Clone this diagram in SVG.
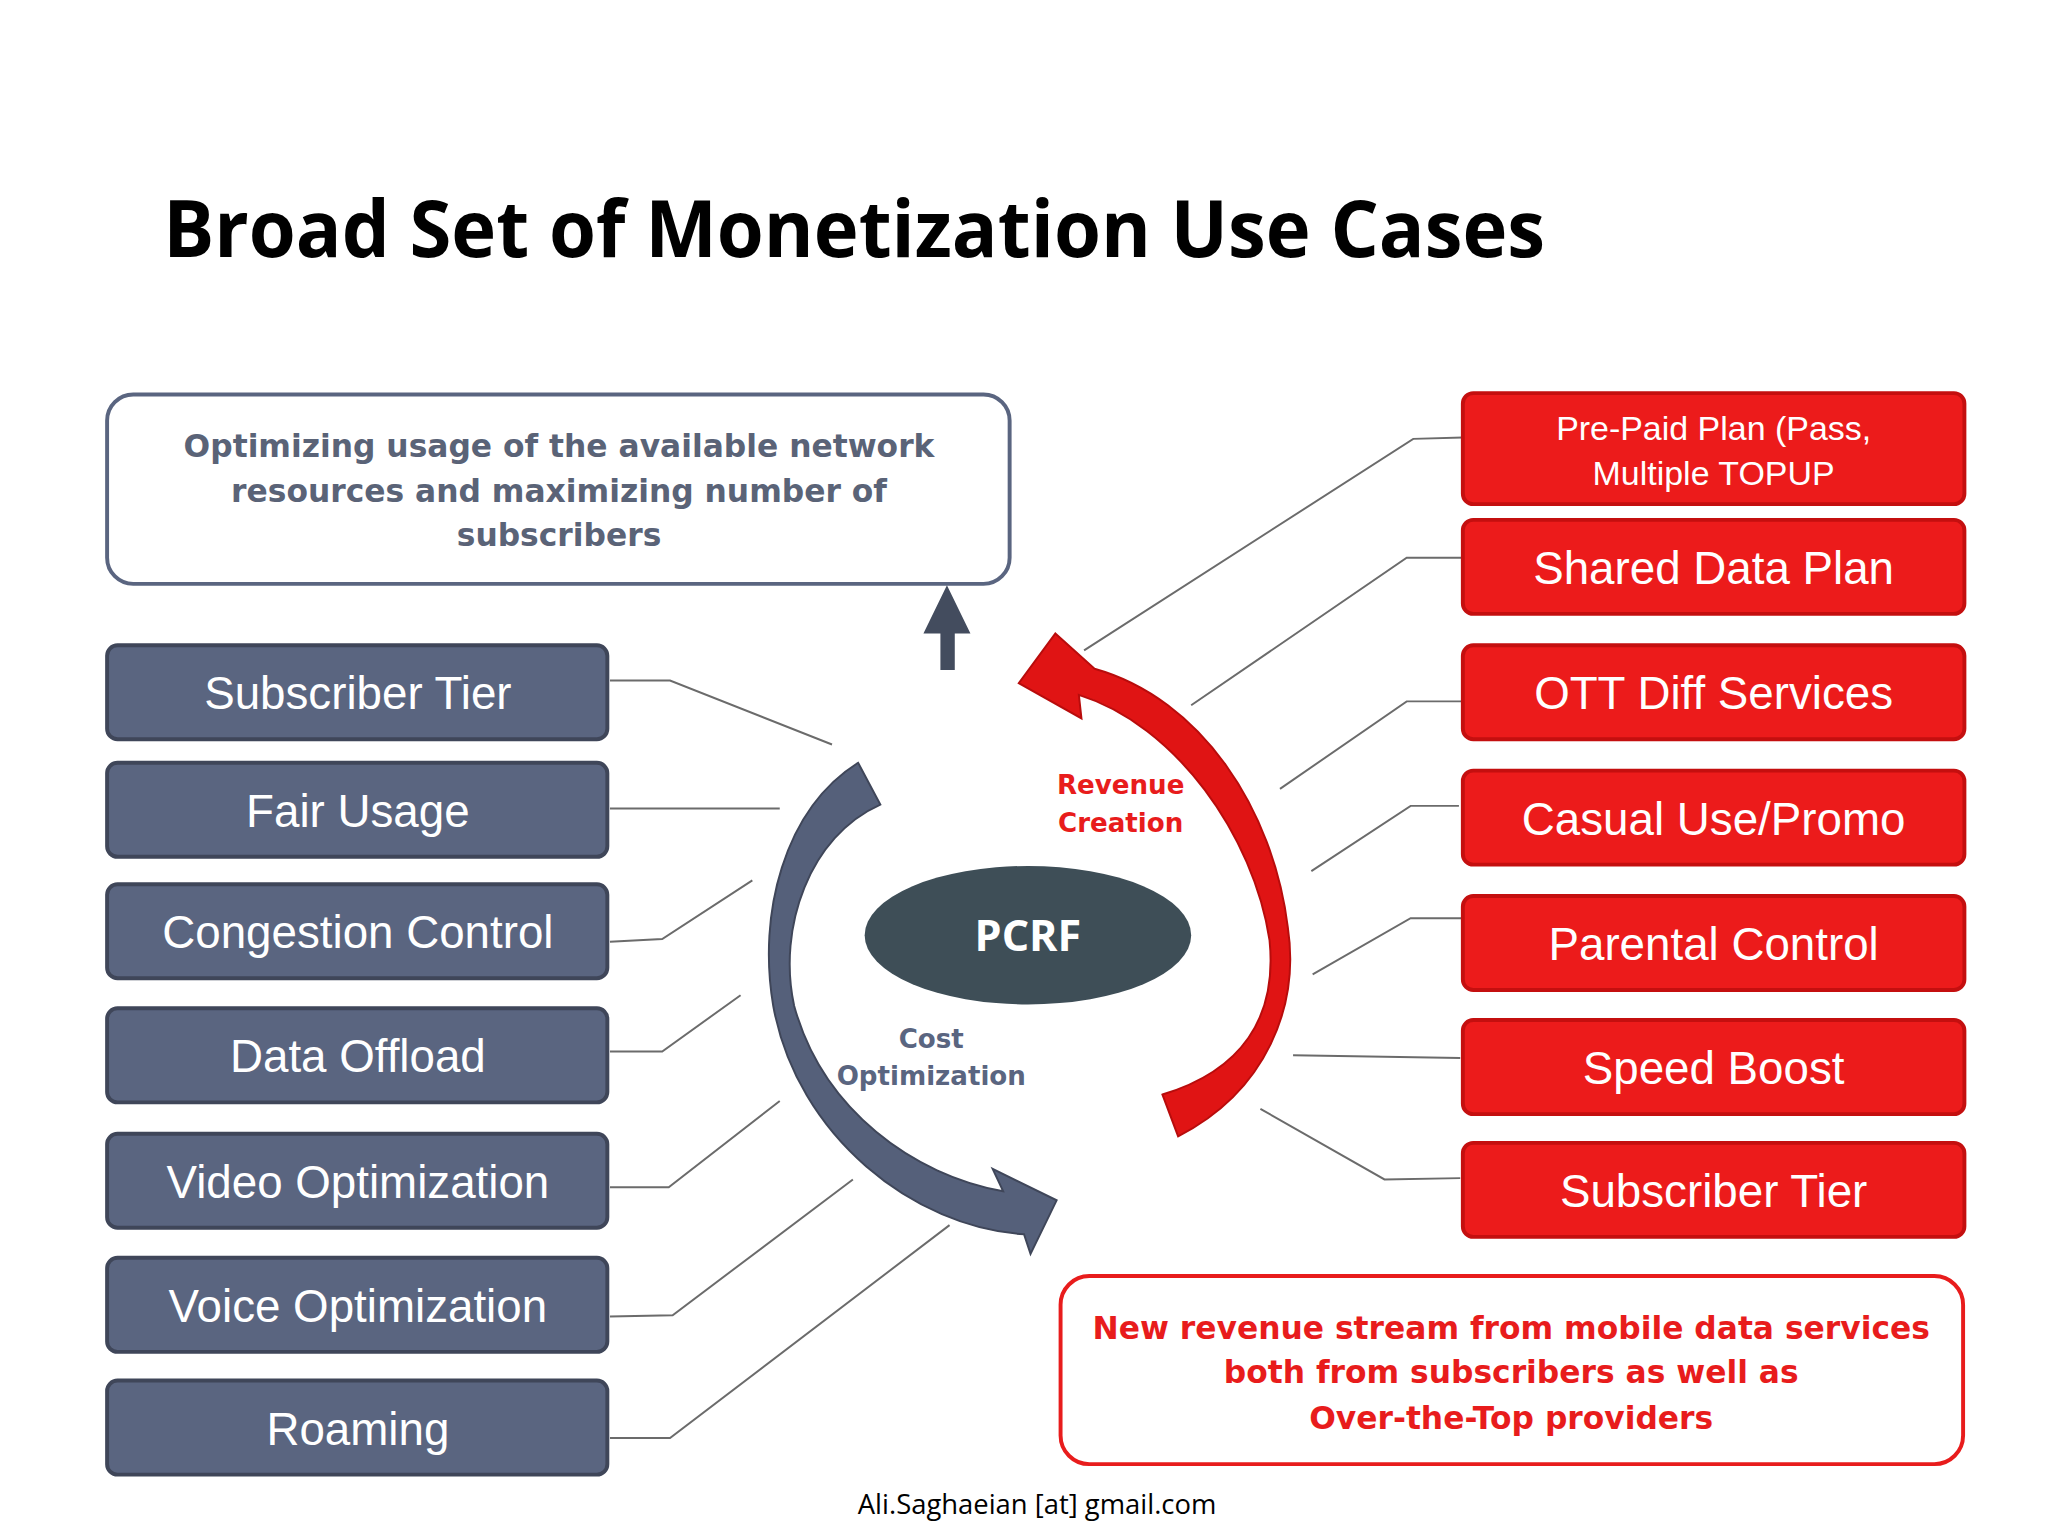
<svg xmlns="http://www.w3.org/2000/svg" width="2048" height="1536" viewBox="0 0 2048 1536">
<style>
.lb{fill:#5a6580;stroke:#3f4659;stroke-width:3}
.rb{fill:#ec1b1b;stroke:#c40f0f;stroke-width:3}
.bt{fill:#fff;font-family:"Liberation Sans",Arial,sans-serif;font-size:35px;text-anchor:middle}
.c{fill:none;stroke:#6b6b6b;stroke-width:1.5}
.d{font-family:"DejaVu Sans",Verdana,sans-serif;font-weight:bold;font-size:24px;text-anchor:middle}
</style>
<rect width="2048" height="1536" fill="#fff"/>
<g transform="scale(1.30612)">
<text x="125" y="197" font-family="'Open Sans',sans-serif" font-weight="bold" font-size="60" textLength="1058" lengthAdjust="spacingAndGlyphs">Broad Set of Monetization Use Cases</text>
<g id="connectors">
<polyline class="c" points="467,521 513,521 637,570"/>
<polyline class="c" points="467,619 597,619"/>
<polyline class="c" points="467,721 507,719 576,674"/>
<polyline class="c" points="467,805 507,805 567,762"/>
<polyline class="c" points="467,909 512,909 597,843"/>
<polyline class="c" points="467,1008 515,1007 653,903"/>
<polyline class="c" points="467,1101 513,1101 727,938"/>
<polyline class="c" points="1120,335 1082,336 830,498"/>
<polyline class="c" points="1120,427 1077,427 912,540"/>
<polyline class="c" points="1120,537 1077,537 980,604"/>
<polyline class="c" points="1117,617 1080,617 1004,667"/>
<polyline class="c" points="1120,703 1080,703 1005,746"/>
<polyline class="c" points="1118,810 990,808"/>
<polyline class="c" points="1118,902 1060,903 965,849"/>
</g>
<g id="goal-top">
<rect x="82" y="302" width="691" height="145" rx="20" fill="#fff" stroke="#5a6580" stroke-width="3"/>
<text class="d" fill="#5a6377"><tspan x="428" y="350">Optimizing usage of the available network</tspan><tspan x="428" y="384">resources and maximizing number of</tspan><tspan x="428" y="418">subscribers</tspan></text>
<path d="M720 513 V485 H707 L725 448 L743 485 H731 V513 Z" fill="#434c5e"/>
</g>
<g id="l1"><rect class="lb" x="82" y="494" width="383" height="72" rx="8"/><text class="bt" x="274" y="543">Subscriber Tier</text></g>
<g id="l2"><rect class="lb" x="82" y="584" width="383" height="72" rx="8"/><text class="bt" x="274" y="633">Fair Usage</text></g>
<g id="l3"><rect class="lb" x="82" y="677" width="383" height="72" rx="8"/><text class="bt" x="274" y="726">Congestion Control</text></g>
<g id="l4"><rect class="lb" x="82" y="772" width="383" height="72" rx="8"/><text class="bt" x="274" y="821">Data Offload</text></g>
<g id="l5"><rect class="lb" x="82" y="868" width="383" height="72" rx="8"/><text class="bt" x="274" y="917">Video Optimization</text></g>
<g id="l6"><rect class="lb" x="82" y="963" width="383" height="72" rx="8"/><text class="bt" x="274" y="1012">Voice Optimization</text></g>
<g id="l7"><rect class="lb" x="82" y="1057" width="383" height="72" rx="8"/><text class="bt" x="274" y="1106">Roaming</text></g>
<g id="r1"><rect class="rb" x="1120" y="301" width="384" height="85" rx="8"/><text class="bt" style="font-size:26px"><tspan x="1312" y="337">Pre-Paid Plan (Pass,</tspan><tspan x="1312" y="371">Multiple TOPUP</tspan></text></g>
<g id="r2"><rect class="rb" x="1120" y="398" width="384" height="72" rx="8"/><text class="bt" x="1312" y="447">Shared Data Plan</text></g>
<g id="r3"><rect class="rb" x="1120" y="494" width="384" height="72" rx="8"/><text class="bt" x="1312" y="543">OTT Diff Services</text></g>
<g id="r4"><rect class="rb" x="1120" y="590" width="384" height="72" rx="8"/><text class="bt" x="1312" y="639">Casual Use/Promo</text></g>
<g id="r5"><rect class="rb" x="1120" y="686" width="384" height="72" rx="8"/><text class="bt" x="1312" y="735">Parental Control</text></g>
<g id="r6"><rect class="rb" x="1120" y="781" width="384" height="72" rx="8"/><text class="bt" x="1312" y="830">Speed Boost</text></g>
<g id="r7"><rect class="rb" x="1120" y="875" width="384" height="72" rx="8"/><text class="bt" x="1312" y="924">Subscriber Tier</text></g>
<g id="goal-bottom">
<rect x="812" y="977" width="691" height="144" rx="22" fill="#fff" stroke="#e81c1c" stroke-width="3"/>
<text class="d" fill="#e81c1c"><tspan x="1157" y="1025">New revenue stream from mobile data services</tspan><tspan x="1157" y="1059">both from subscribers as well as</tspan><tspan x="1157" y="1094">Over-the-Top providers</tspan></text>
</g>
<g id="cycle">
<path d="M902 870 C970 835 995 770 986 710 C975 620 920 535 838 512 L808 485 L780 523 L828 550 L826 532 C900 555 960 640 972 720 C978 780 950 820 890 838 Z" fill="#e01414" stroke="#b80c0c" stroke-width="1.5"/>
<path d="M657 584 C600 620 580 700 592 770 C610 870 700 940 784 945 L789 960 L809 919 L760 895 L768 912 C700 900 630 850 608 770 C595 710 620 640 674 616 Z" fill="#55607a" stroke="#3f4659" stroke-width="1.5"/>
<text class="d" fill="#e81c1c" style="font-size:20px"><tspan x="858" y="608">Revenue</tspan><tspan x="858" y="637">Creation</tspan></text>
<text class="d" fill="#5a6580" style="font-size:20px"><tspan x="713" y="802">Cost</tspan><tspan x="713" y="831">Optimization</tspan></text>
</g>
<g id="pcrf">
<ellipse cx="787" cy="716" rx="125" ry="53" fill="#3e4e57"/>
<text x="787" y="728" fill="#fff" font-family="'Open Sans',sans-serif" font-weight="bold" font-size="33" text-anchor="middle">PCRF</text>
</g>
<text x="794" y="1159" font-family="'Open Sans',sans-serif" font-size="21" text-anchor="middle">Ali.Saghaeian [at] gmail.com</text>
</g>
</svg>
